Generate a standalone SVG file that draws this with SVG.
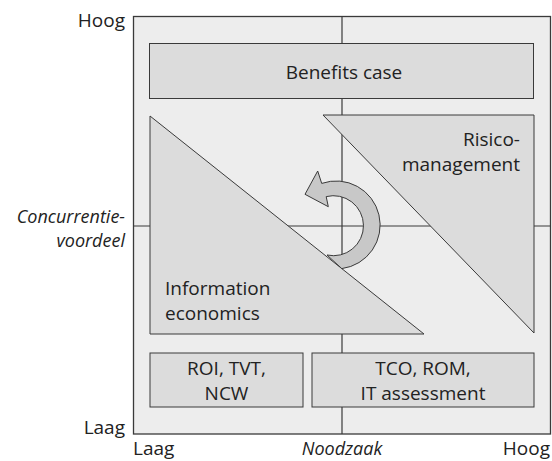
<svg xmlns="http://www.w3.org/2000/svg" width="552" height="461" viewBox="0 0 552 461">
  <style>
    .shape { fill: #dcdcdc; stroke: #3a3a3a; stroke-width: 1; }
    .axis { fill: none; stroke: #3a3a3a; stroke-width: 1.2; }
    .label { font-family: "Open Sans", "Noto Sans", sans-serif; font-size: 19px; fill: #222; }
    .it { font-style: italic; font-size: 18px; }
    .mid { text-anchor: middle; }
    .end { text-anchor: end; }
  </style>

  <!-- plot area with quadrant lines -->
  <g id="frame">
    <rect x="133.5" y="16.5" width="417" height="417.5" fill="#ededed" stroke="#3a3a3a" stroke-width="1.3"/>
    <line class="axis" x1="342" y1="16.5" x2="342" y2="434"/>
    <line class="axis" x1="133.5" y1="226" x2="550.5" y2="226"/>
  </g>

  <!-- axis labels -->
  <g id="axis-labels" class="label">
    <text x="125" y="27" class="end">Hoog</text>
    <text x="125" y="223" class="end it">Concurrentie-<tspan x="125" dy="24">voordeel</tspan></text>
    <text x="125" y="434" class="end">Laag</text>
    <text x="133" y="455">Laag</text>
    <text x="342" y="455" class="mid it">Noodzaak</text>
    <text x="550" y="455" class="end">Hoog</text>
  </g>

  <g id="benefits-case">
    <rect class="shape" x="149.5" y="43.5" width="384" height="55"/>
    <text class="label mid" x="344" y="78.5">Benefits case</text>
  </g>

  <g id="information-economics">
    <polygon class="shape" points="150,116 150,334 424,334"/>
    <text class="label" x="165" y="295">Information<tspan x="165" dy="25">economics</tspan></text>
  </g>

  <g id="risicomanagement">
    <polygon class="shape" points="323,115 534,115 534,333"/>
    <text class="label end" x="520" y="146">Risico-<tspan x="520" dy="25">management</tspan></text>
  </g>

  <g id="roi-tvt-ncw">
    <rect class="shape" x="150" y="353" width="153" height="54"/>
    <text class="label mid" x="226.5" y="375">ROI, TVT,<tspan x="226.5" dy="25">NCW</tspan></text>
  </g>

  <g id="tco-rom-it">
    <rect class="shape" x="312" y="353" width="222" height="54"/>
    <text class="label mid" x="423" y="375">TCO, ROM,<tspan x="423" dy="25">IT assessment</tspan></text>
  </g>

  <!-- circular arrow between the two approaches -->
  <g id="connectors">
    <path d="M341.8,268.6 A44,44 0 1 0 321.7,183.4 L317.7,171 L305,194.3 L328.3,206.7 L326.2,196.6 A30,30 0 1 1 327,255 Z"
          fill="#c8c8c8" stroke="#3a3a3a" stroke-width="1"/>
  </g>
</svg>
